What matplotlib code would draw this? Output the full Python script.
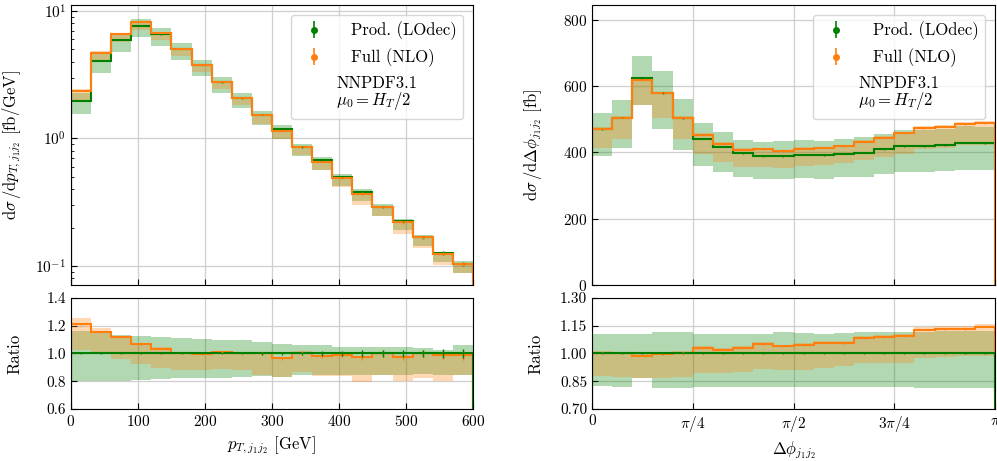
import numpy as np
import matplotlib
matplotlib.use("Agg")
import matplotlib.pyplot as plt
from matplotlib.ticker import FixedLocator, FormatStrFormatter

plt.rcParams['font.family'] = 'serif'
plt.rcParams['font.serif'] = ['cmr10']
plt.rcParams['mathtext.fontset'] = 'cm'
plt.rcParams['axes.formatter.use_mathtext'] = True

# pT(j1 j2) distribution, 30 GeV bins [fb/GeV]
pt_edges = [0, 30, 60, 90, 120, 150, 180, 210, 240, 270, 300,
            330, 360, 390, 420, 450, 480, 510, 540, 570, 600]
pt_prod = [1.96, 4.07, 5.94, 7.65, 6.54, 5.02, 3.76, 2.76, 2.07, 1.53,
           1.19, 0.855, 0.672, 0.497, 0.379, 0.289, 0.224, 0.168, 0.126, 0.104]
pt_full = [2.37, 4.70, 6.63, 8.16, 6.76, 5.02, 3.75, 2.79, 2.07, 1.53,
           1.15, 0.861, 0.659, 0.492, 0.369, 0.289, 0.219, 0.168, 0.125, 0.103]
# scale bands, as ratio to Prod. (LOdec)
pt_prod_hi = [1.159, 1.154, 1.135, 1.123, 1.116, 1.111, 1.104, 1.099, 1.094, 1.082,
              1.072, 1.063, 1.058, 1.050, 1.050, 1.050, 1.046, 1.043, 1.027, 1.058]
pt_prod_lo = [0.800, 0.800, 0.805, 0.810, 0.815, 0.822, 0.822, 0.827, 0.830, 0.838,
              0.830, 0.846, 0.846, 0.846, 0.846, 0.846, 0.846, 0.853, 0.846, 0.846]
pt_full_hi = [1.255, 1.183, 1.125, 1.077, 1.044, 1.010, 1.008, 1.020, 1.010, 1.010,
              0.976, 1.017, 0.991, 1.000, 0.983, 1.010, 0.986, 1.010, 1.005, 1.000]
pt_full_lo = [1.024, 1.000, 0.961, 0.923, 0.899, 0.880, 0.880, 0.889, 0.880, 0.845,
              0.831, 0.865, 0.836, 0.840, 0.798, 0.846, 0.800, 0.827, 0.800, 0.846]
# relative MC errors
pt_prod_err = [0.004, 0.003, 0.003, 0.003, 0.003, 0.004, 0.005, 0.006, 0.007, 0.008,
               0.012, 0.014, 0.016, 0.018, 0.022, 0.024, 0.026, 0.028, 0.030, 0.034]
pt_full_err = [0.004, 0.003, 0.003, 0.003, 0.003, 0.004, 0.005, 0.006, 0.007, 0.008,
               0.012, 0.014, 0.016, 0.018, 0.022, 0.024, 0.026, 0.028, 0.030, 0.034]

# delta phi(j1 j2) distribution, 20 bins in [0, pi] [fb]
dphi_edges = np.linspace(0, np.pi, 21)
dphi_prod = [470, 505, 625, 580, 503, 441, 417, 397, 389, 389,
             393, 391, 396, 399, 409, 419, 419, 422, 429, 427]
dphi_full = [472, 505, 618, 578, 505, 454, 426, 408, 409, 404,
             411, 414, 419, 432, 445, 458, 473, 478, 486, 489]
dphi_prod_hi = [1.105, 1.108, 1.108, 1.114, 1.114, 1.108, 1.105, 1.105, 1.108, 1.114,
                1.110, 1.108, 1.110, 1.116, 1.116, 1.116, 1.116, 1.119, 1.119, 1.119]
dphi_prod_lo = [0.827, 0.821, 0.867, 0.812, 0.812, 0.817, 0.817, 0.818, 0.821, 0.821,
                0.821, 0.821, 0.821, 0.819, 0.817, 0.817, 0.815, 0.815, 0.812, 0.812]
dphi_full_hi = [1.015, 1.010, 0.999, 1.006, 1.014, 1.039, 1.032, 1.039, 1.061, 1.048,
                1.057, 1.068, 1.068, 1.093, 1.099, 1.104, 1.143, 1.147, 1.149, 1.160]
dphi_full_lo = [0.881, 0.875, 0.870, 0.870, 0.875, 0.893, 0.893, 0.899, 0.917, 0.911,
                0.911, 0.924, 0.930, 0.946, 0.946, 0.946, 0.978, 0.982, 0.984, 0.987]
dphi_prod_err = [0.004, 0.004, 0.004, 0.004, 0.004, 0.004, 0.004, 0.004, 0.004, 0.004,
                 0.004, 0.004, 0.004, 0.004, 0.004, 0.004, 0.004, 0.004, 0.004, 0.004]
dphi_full_err = [0.004, 0.004, 0.004, 0.004, 0.004, 0.004, 0.004, 0.004, 0.004, 0.004,
                 0.004, 0.004, 0.004, 0.004, 0.004, 0.004, 0.004, 0.004, 0.004, 0.004]

labels = ['Prod. (LOdec)', 'Full (NLO)']
info = 'NNPDF3.1\n$\\mu_0 = H_T/2$'
c_prod = 'green'
c_full = '#ff7f0e'


def style(ax):
    ax.tick_params(which='both', direction='in', labelsize=11)
    ax.tick_params(which='major', length=4)
    ax.tick_params(which='minor', length=2)
    ax.grid(True, color='#cfcfcf', lw=0.9)
    ax.set_axisbelow(True)


def draw_pair(ax_main, ax_rat, edges, prod, full, p_hi, p_lo, f_hi, f_lo, p_err, f_err):
    edges = np.asarray(edges, dtype=float)
    prod = np.asarray(prod, dtype=float)
    full = np.asarray(full, dtype=float)
    p_hi, p_lo = np.asarray(p_hi), np.asarray(p_lo)
    f_hi, f_lo = np.asarray(f_hi), np.asarray(f_lo)
    p_err, f_err = np.asarray(p_err), np.asarray(f_err)
    centers = 0.5 * (edges[1:] + edges[:-1])
    ratio = full / prod

    # main panel
    ax_main.stairs(prod * p_hi, edges, baseline=prod * p_lo, fill=True,
                   color=c_prod, alpha=0.3, lw=0)
    ax_main.stairs(prod * f_hi, edges, baseline=prod * f_lo, fill=True,
                   color=c_full, alpha=0.3, lw=0)
    ax_main.stairs(prod, edges, baseline=0, color=c_prod, lw=1.5)
    ax_main.stairs(full, edges, baseline=0, color=c_full, lw=1.5)
    ax_main.errorbar(centers, prod, yerr=prod * p_err, fmt='none', ecolor=c_prod, lw=1)
    ax_main.errorbar(centers, full, yerr=full * f_err, fmt='none', ecolor=c_full, lw=1)

    # ratio panel
    ax_rat.stairs(p_hi, edges, baseline=p_lo, fill=True, color=c_prod, alpha=0.3, lw=0)
    ax_rat.stairs(f_hi, edges, baseline=f_lo, fill=True, color=c_full, alpha=0.3, lw=0)
    ax_rat.stairs(ratio, edges, baseline=0, color=c_full, lw=1.5)
    ax_rat.stairs(np.ones_like(prod), edges, baseline=0, color=c_prod, lw=1.5)
    ax_rat.errorbar(centers, ratio, yerr=ratio * f_err, fmt='none', ecolor=c_full, lw=1)
    ax_rat.errorbar(centers, np.ones_like(prod), yerr=p_err, fmt='none', ecolor=c_prod, lw=1)

    h1 = ax_main.errorbar([np.nan], [np.nan], yerr=[1], fmt='o', color=c_prod, ms=4, lw=1.2)
    h2 = ax_main.errorbar([np.nan], [np.nan], yerr=[1], fmt='o', color=c_full, ms=4, lw=1.2)
    leg = ax_main.legend([h1, h2], labels, title=info, loc='upper right',
                         fontsize=12, title_fontsize=12, borderaxespad=0.6,
                         handletextpad=1.2)
    leg.get_title().set_linespacing(0.95)
    # put the info text below the entries
    leg._legend_box._children = leg._legend_box._children[::-1]


fig = plt.figure(figsize=(9.97, 4.61), dpi=100)
ax1 = fig.add_axes([0.0712, 0.3818, 0.4032, 0.6074])
ax1r = fig.add_axes([0.0712, 0.1128, 0.4032, 0.2408], sharex=ax1)
ax2 = fig.add_axes([0.5938, 0.3818, 0.4042, 0.6074])
ax2r = fig.add_axes([0.5938, 0.1128, 0.4042, 0.2408], sharex=ax2)

draw_pair(ax1, ax1r, pt_edges, pt_prod, pt_full, pt_prod_hi, pt_prod_lo,
          pt_full_hi, pt_full_lo, pt_prod_err, pt_full_err)
draw_pair(ax2, ax2r, dphi_edges, dphi_prod, dphi_full, dphi_prod_hi, dphi_prod_lo,
          dphi_full_hi, dphi_full_lo, dphi_prod_err, dphi_full_err)

# left: pT
ax1.set_yscale('log')
ax1.set_ylim(10 ** -1.15, 10 ** 1.047)
ax1.set_xlim(0, 600)
ax1.set_ylabel('$\\mathrm{d}\\sigma\\,/\\mathrm{d}p_{T,j_1j_2}$ [fb/GeV]', fontsize=12)
ax1r.set_ylim(0.6, 1.4)
ax1r.yaxis.set_major_locator(FixedLocator([0.6, 0.8, 1.0, 1.2, 1.4]))
ax1r.yaxis.set_major_formatter(FormatStrFormatter('%.1f'))
ax1r.set_xticks([0, 100, 200, 300, 400, 500, 600])
ax1r.set_ylabel('Ratio', fontsize=12)
ax1r.set_xlabel('$p_{T,j_1j_2}$ [GeV]', fontsize=12)

# right: delta phi
ax2.set_ylim(0, 845)
ax2.set_yticks([0, 200, 400, 600, 800])
ax2.set_xlim(0, np.pi)
ax2.set_ylabel('$\\mathrm{d}\\sigma\\,/\\mathrm{d}\\Delta\\phi_{j_1j_2}$ [fb]', fontsize=12)
ax2r.set_ylim(0.70, 1.30)
ax2r.yaxis.set_major_locator(FixedLocator([0.70, 0.85, 1.00, 1.15, 1.30]))
ax2r.yaxis.set_major_formatter(FormatStrFormatter('%.2f'))
ax2r.set_xticks([0, np.pi / 4, np.pi / 2, 3 * np.pi / 4, np.pi])
ax2r.set_xticklabels(['0', '$\\pi/4$', '$\\pi/2$', '$3\\pi/4$', '$\\pi$'])
ax2r.set_ylabel('Ratio', fontsize=12)
ax2r.set_xlabel('$\\Delta\\phi_{j_1j_2}$', fontsize=12)

for ax in (ax1, ax1r, ax2, ax2r):
    style(ax)
    ax.yaxis.set_label_coords(-0.12, 0.5)
for ax in (ax1, ax2):
    ax.tick_params(labelbottom=False)

fig.savefig('out.png', dpi=100)
